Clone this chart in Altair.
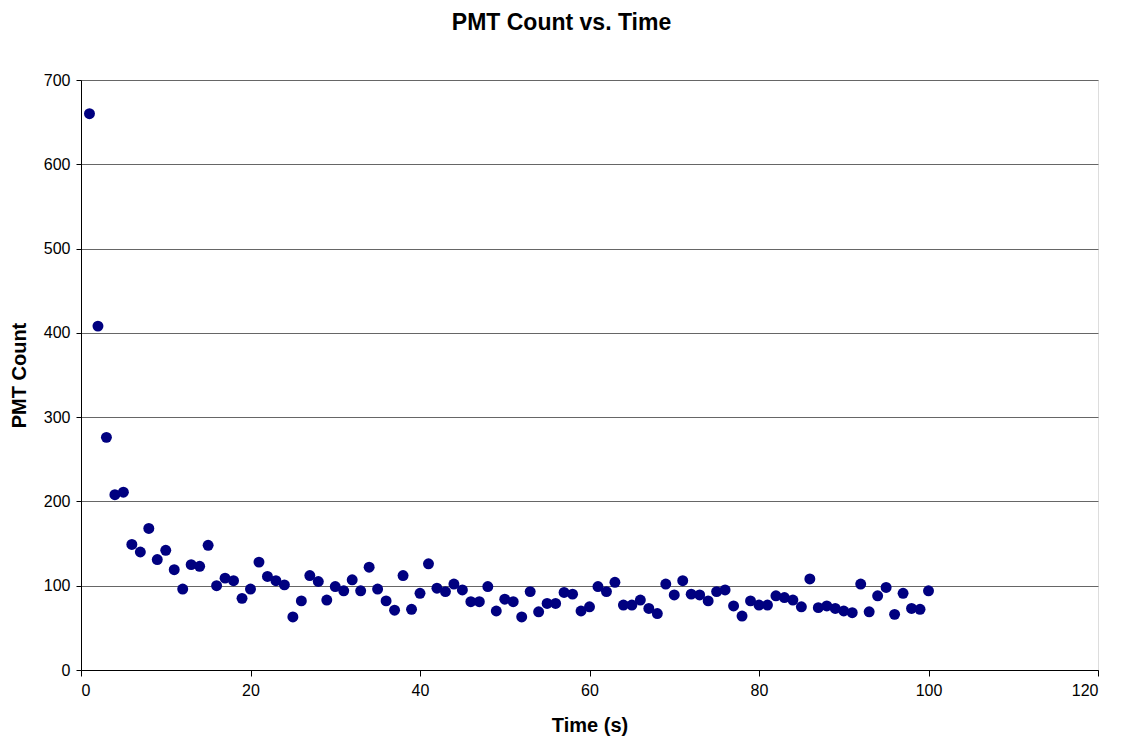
import altair as alt
import pandas as pd

time_s = list(range(1, 101))
pmt_count = [
    660, 408, 276, 208, 211, 149, 140, 168, 131, 142,
    119, 96, 125, 123, 148, 100, 109, 106, 85, 96,
    128, 111, 106, 101, 63, 82, 112, 105, 83, 99,
    94, 107, 94, 122, 96, 82, 71, 112, 72, 91,
    126, 97, 93, 102, 95, 81, 81, 99, 70, 84,
    81, 63, 93, 69, 79, 79, 92, 90, 70, 75,
    99, 93, 104, 77, 77, 83, 73, 67, 102, 89,
    106, 90, 89, 82, 93, 95, 76, 64, 82, 77,
    77, 88, 86, 83, 75, 108, 74, 76, 73, 70,
    68, 102, 69, 88, 98, 66, 91, 73, 72, 94,
]

df = pd.DataFrame({"Time (s)": time_s, "PMT Count": pmt_count})

FONT = "Liberation Sans"

chart = (
    alt.Chart(df)
    .mark_circle(size=120, color="#000080", opacity=1)
    .encode(
        x=alt.X(
            "Time (s):Q",
            scale=alt.Scale(domain=[0, 120], nice=False),
            axis=alt.Axis(
                values=[0, 20, 40, 60, 80, 100, 120],
                grid=False,
                domainColor="#000000",
                tickColor="#000000",
                tickSize=6,
                labelPadding=6,
                labelFontSize=16,
                labelColor="#000000",
                titleFontSize=20,
                titleFontWeight="bold",
                titleColor="#000000",
                titlePadding=17,
                labelFont=FONT,
                titleFont=FONT,
            ),
        ),
        y=alt.Y(
            "PMT Count:Q",
            scale=alt.Scale(domain=[0, 700], nice=False),
            axis=alt.Axis(
                values=[0, 100, 200, 300, 400, 500, 600, 700],
                grid=True,
                gridColor="#666666",
                gridWidth=1,
                domainColor="#000000",
                tickColor="#000000",
                tickSize=5,
                labelPadding=6,
                labelFontSize=16,
                labelColor="#000000",
                titleFontSize=20,
                titleFontWeight="bold",
                titleColor="#000000",
                titlePadding=14,
                labelFont=FONT,
                titleFont=FONT,
            ),
        ),
    )
    .properties(
        width=1017,
        height=590,
        title=alt.TitleParams(
            "PMT Count vs. Time",
            fontSize=23,
            fontWeight="bold",
            font=FONT,
            color="#000000",
            anchor="middle",
            dx=-28,
            offset=37,
        ),
        autosize=alt.AutoSizeParams(type="none"),
        padding={"left": 73, "top": 72, "right": 19, "bottom": 66},
    )
    .configure_view(stroke="#808080", strokeWidth=1)
    .configure(background="#ffffff")
)

chart.save("out.html", embed_options={"renderer": "svg", "actions": False})
